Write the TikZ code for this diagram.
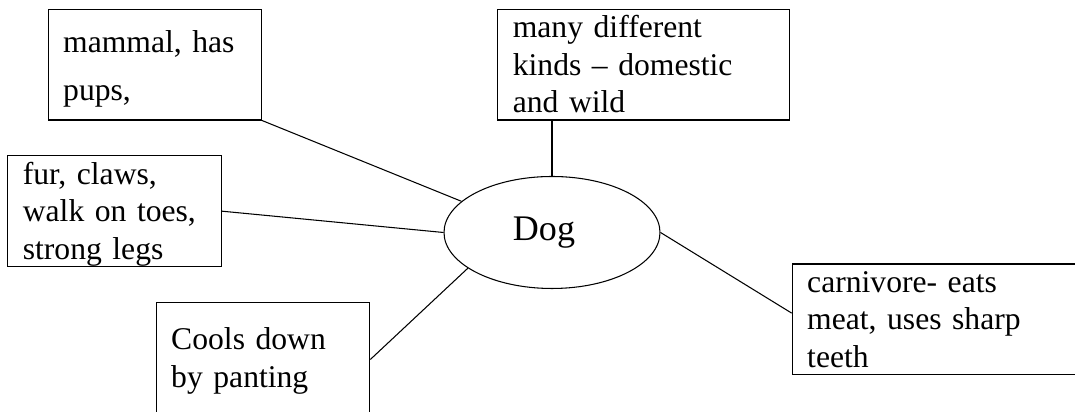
\documentclass[tikz,border=0pt]{standalone}
\usepackage{fontspec}
\setmainfont{Liberation Serif}
\usetikzlibrary{shapes}

\begin{document}
\begin{tikzpicture}[
    factbox/.style={draw, line width=0.6pt, align=left, anchor=base west,
        inner xsep=0.3cm, inner ysep=0pt,
        font=\fontsize{18}{21.3}\selectfont},
    link/.style={line width=0.6pt}]
    \useasboundingbox (0,0) rectangle (21.5,8.24);
    \clip (0,0) rectangle (21.5,8.24);

    \node[draw, ellipse, line width=0.6pt, minimum width=4.32cm, minimum height=2.24cm,
        inner sep=0pt, font=\fontsize{20.5}{24}\selectfont] (D) at (11.04,3.59) {Dog\hspace*{0.32cm}};
    \node[factbox, text width=3.666cm, text height=0.86cm, text depth=1.354cm] (M) at (0.954,7.194)
        {mammal, has\\[6pt] pups,};
    \node[factbox, text width=3.674cm, text height=0.572cm, text depth=1.648cm] (F) at (0.146,4.554)
        {fur, claws,\\ walk on toes,\\ strong legs};
    \node[factbox, text width=5.24cm, text height=0.568cm, text depth=1.646cm] (K) at (9.946,7.486)
        {many different\\ kinds -- domestic\\ and wild};
    \node[factbox, text width=6cm, text height=0.566cm, text depth=1.64cm] (C) at (15.834,2.394)
        {carnivore- eats\\ meat, uses sharp\\ teeth};
    \node[factbox, text width=3.672cm, text height=0.954cm, text depth=1.8cm] (P) at (3.114,1.24)
        {Cools down\\ by panting};

    \draw[link] (M.south east) to (D.161);
    \draw[link] (F.east) to (D.west);
    \draw[link] (D.north) to (D.north |- K.south);
    \draw[link] (D.east) to ([yshift=0.12cm]C.west);
    \draw[link] ([yshift=-1.154cm]P.north east) to (D.203);

\end{tikzpicture}
\end{document}
